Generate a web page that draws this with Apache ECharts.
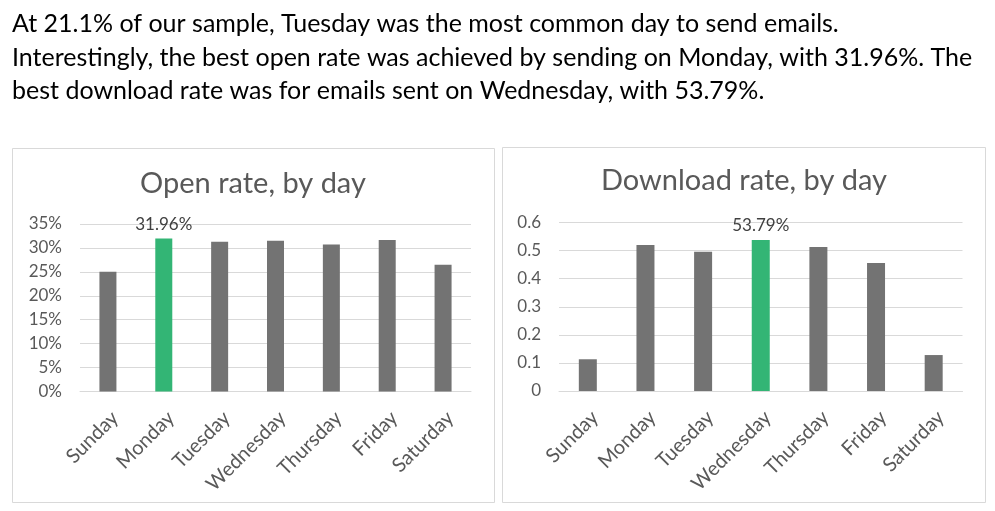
<!DOCTYPE html>
<html><head><meta charset="utf-8">
<script src="https://cdn.jsdelivr.net/npm/echarts@6/dist/echarts.min.js"></script>
<style>html,body{margin:0;padding:0;background:#fff}#c{width:995px;height:511px}</style>
</head><body><div id="c"></div>
<script>
const days = ['Sunday','Monday','Tuesday','Wednesday','Thursday','Friday','Saturday'];
const openRate = [25.0, 31.96, 31.3, 31.5, 30.7, 31.65, 26.5];       // percent
const downloadRate = [0.113, 0.52, 0.496, 0.5379, 0.513, 0.456, 0.128]; // fraction
const openTicks = {min: 0, max: 35, interval: 5};
const downloadTicks = {min: 0, max: 0.6, interval: 0.1};
const paragraph = [
  'At 21.1% of our sample, Tuesday was the most common day to send emails.',
  'Interestingly, the best open rate was achieved by sending on Monday, with 31.96%. The',
  'best download rate was for emails sent on Wednesday, with 53.79%.'
];
const openTitle = 'Open rate, by day';
const downloadTitle = 'Download rate, by day';

const FONT = 'Lato';
const GRAY = '#737373', GREEN = '#33B575', GRID = '#d9d9d9', TXT = '#595959';

function buildData(values, fmt) {
  const maxV = Math.max(...values);
  return values.map(v => v === maxV ? {
    value: v,
    itemStyle: {color: GREEN},
    label: {show: true, position: 'top', distance: 6, formatter: () => fmt(v),
            color: '#404040', fontSize: 17, fontFamily: FONT}
  } : {value: v});
}

const chart = echarts.init(document.getElementById('c'), null, {renderer: 'canvas'});
const catAxis = (gi) => ({
  type: 'category', gridIndex: gi, data: days,
  axisLine: {lineStyle: {color: GRID}}, axisTick: {show: false},
  axisLabel: {rotate: 45, color: TXT, fontSize: 20, fontFamily: FONT, margin: 16,
              interval: 0, verticalAlign: 'top', align: 'right'}
});
chart.setOption({
  backgroundColor: '#fff',
  animation: false,
  textStyle: {fontFamily: FONT},
  title: [
    {text: paragraph.join('\n'), left: 12, top: 7, padding: 0,
     textStyle: {fontSize: 25, fontWeight: 'normal', color: '#000', lineHeight: 33.7, fontFamily: FONT}},
    {text: openTitle, left: 253, top: 169, textAlign: 'center', padding: 0,
     textStyle: {fontSize: 29, fontWeight: 'normal', color: TXT, fontFamily: FONT}},
    {text: downloadTitle, left: 744, top: 166, textAlign: 'center', padding: 0,
     textStyle: {fontSize: 29, fontWeight: 'normal', color: TXT, fontFamily: FONT}}
  ],
  graphic: [
    {type: 'rect', shape: {x: 12.5, y: 148.5, width: 482, height: 354}, style: {fill: 'none', stroke: GRID, lineWidth: 1}},
    {type: 'rect', shape: {x: 502.5, y: 147.5, width: 483, height: 355}, style: {fill: 'none', stroke: GRID, lineWidth: 1}}
  ],
  grid: [
    {left: 80, right: 524, top: 224, bottom: 119.5},
    {left: 559, right: 32.5, top: 222.5, bottom: 120}
  ],
  xAxis: [catAxis(0), catAxis(1)],
  yAxis: [
    {type: 'value', gridIndex: 0, min: openTicks.min, max: openTicks.max, interval: openTicks.interval,
     axisLine: {show: false}, axisTick: {show: false},
     splitLine: {lineStyle: {color: GRID}},
     axisLabel: {formatter: '{value}%', color: TXT, fontSize: 17, fontFamily: FONT, margin: 18}},
    {type: 'value', gridIndex: 1, min: downloadTicks.min, max: downloadTicks.max, interval: downloadTicks.interval,
     axisLine: {show: false}, axisTick: {show: false},
     splitLine: {lineStyle: {color: GRID}},
     axisLabel: {formatter: v => String(Math.round(v * 10) / 10), color: TXT, fontSize: 17, fontFamily: FONT, margin: 18}}
  ],
  series: [
    {type: 'bar', xAxisIndex: 0, yAxisIndex: 0, barWidth: 17, itemStyle: {color: GRAY},
     data: buildData(openRate, v => v.toFixed(2) + '%')},
    {type: 'bar', xAxisIndex: 1, yAxisIndex: 1, barWidth: 18, itemStyle: {color: GRAY},
     data: buildData(downloadRate, v => (v * 100).toFixed(2) + '%')}
  ]
});
</script></body></html>
